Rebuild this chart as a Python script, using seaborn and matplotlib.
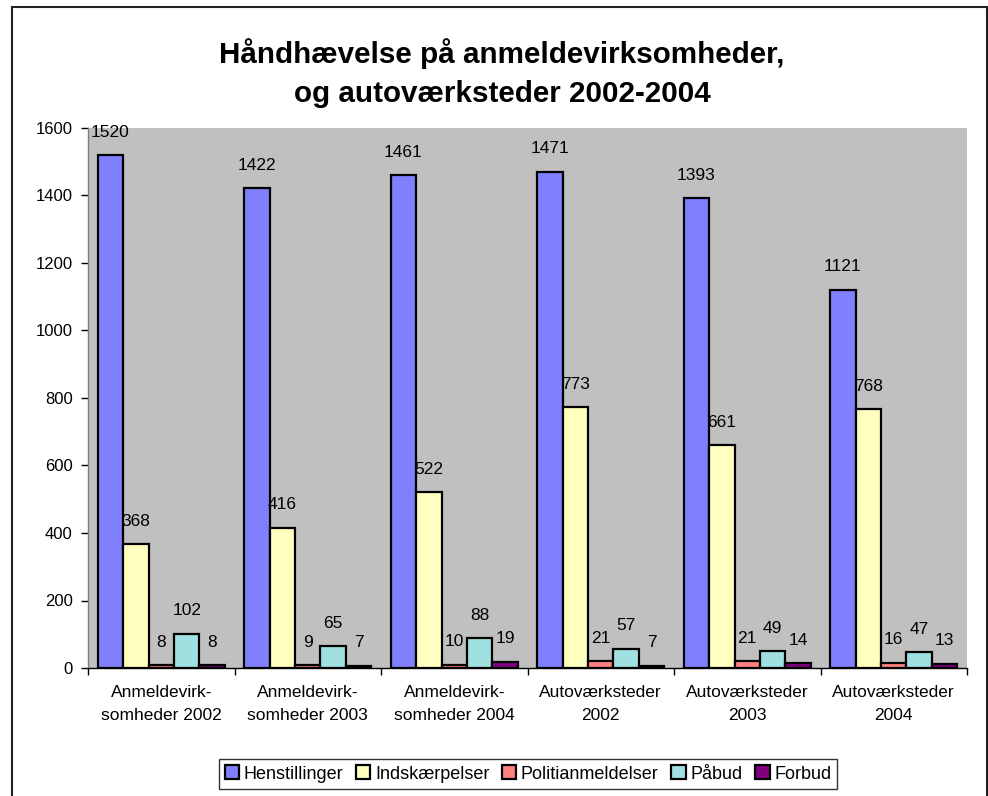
import matplotlib
matplotlib.use("Agg")
import matplotlib.pyplot as plt
import seaborn as sns
import pandas as pd
from matplotlib.patches import Rectangle

categories = ["Anmeldevirk-\nsomheder 2002", "Anmeldevirk-\nsomheder 2003", "Anmeldevirk-\nsomheder 2004",
              "Autoværksteder\n2002", "Autoværksteder\n2003", "Autoværksteder\n2004"]
series_names = ["Henstillinger", "Indskærpelser", "Politianmeldelser", "Påbud", "Forbud"]
henstillinger = [1520, 1422, 1461, 1471, 1393, 1121]
indskaerpelser = [368, 416, 522, 773, 661, 768]
politianmeldelser = [8, 9, 10, 21, 21, 16]
paabud = [102, 65, 88, 57, 49, 47]
forbud = [8, 7, 19, 7, 14, 13]
colors = ["#8080FF", "#FFFFC0", "#FF8080", "#A0E0E0", "#800080"]

series_values = [henstillinger, indskaerpelser, politianmeldelser, paabud, forbud]
rows = []
for name, vals in zip(series_names, series_values):
    for c, v in zip(categories, vals):
        rows.append({"cat": c, "serie": name, "val": v})
df = pd.DataFrame(rows)

sns.set_style("white")
plt.rcParams["font.family"] = ["Liberation Sans", "DejaVu Sans"]
plt.rcParams["text.color"] = "black"
plt.rcParams["xtick.color"] = "black"
plt.rcParams["ytick.color"] = "black"

fig = plt.figure(figsize=(9.88, 7.96), dpi=100)
ax = fig.add_axes([88/988, 1 - 668/796, (967-88)/988, (668-128)/796])
ax.set_facecolor("#C0C0C0")

sns.barplot(data=df, x="cat", y="val", hue="serie", hue_order=series_names,
            order=categories, palette=colors, saturation=1, width=0.87, edgecolor="black",
            linewidth=1.6, ax=ax, legend=True)

for cont in ax.containers:
    ax.bar_label(cont, labels=[f"{int(v)}" for v in cont.datavalues],
                 padding=11, fontsize=12.5, color="black")

ax.set_ylim(0, 1600)
ax.set_xlim(-0.5, 5.5)
ax.set_yticks(range(0, 1601, 200))
ax.set_yticklabels([str(v) for v in range(0, 1601, 200)], fontsize=12)
ax.set_xticks(range(6))
ax.set_xticklabels(categories, fontsize=12.5, linespacing=1.7)
ax.tick_params(axis="x", length=0, pad=12)
ax.tick_params(axis="y", length=5, width=1, direction="out", left=True, pad=6)
ax.set_xticks([i - 0.5 for i in range(7)], minor=True)
ax.tick_params(axis="x", which="minor", length=5, width=1, direction="out", bottom=True)
ax.set_xlabel("")
ax.set_ylabel("")
for side in ["top", "right"]:
    ax.spines[side].set_visible(False)
ax.spines["left"].set_color("#808080")
ax.spines["left"].set_linewidth(1)
ax.spines["bottom"].set_color("black")
ax.spines["bottom"].set_linewidth(1)

handles, labels = ax.get_legend_handles_labels()
ax.legend_.remove()
leg = fig.legend(handles, labels, loc="center", bbox_to_anchor=(528/988, 1 - 774/796),
                 ncol=5, fontsize=13, frameon=True, fancybox=False, edgecolor="black",
                 handlelength=0.8, handleheight=0.8, handletextpad=0.25, columnspacing=0.7,
                 borderpad=0.35, borderaxespad=0)
leg.get_frame().set_linewidth(1)

fig.text(502/988, 1 - 73/796, "Håndhævelse på anmeldevirksomheder,\nog autoværksteder 2002-2004",
         ha="center", va="center", fontsize=21.3, fontweight="bold", linespacing=1.5)

fig.patches.append(Rectangle((12/988, -0.01), (987-12)/988, (1 - 7/796) + 0.01,
                             transform=fig.transFigure, fill=False, edgecolor="#222222",
                             linewidth=1.5))

fig.savefig("out.png", dpi=100)
